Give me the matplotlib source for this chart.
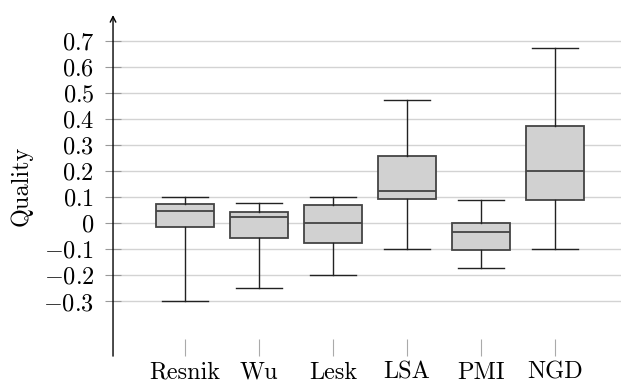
import matplotlib
matplotlib.use("Agg")
import matplotlib.pyplot as plt

categories = ["Resnik", "Wu", "Lesk", "LSA", "PMI", "NGD"]
whisker_low = [-0.30, -0.25, -0.20, -0.10, -0.17, -0.10]
q1 = [-0.015, -0.057, -0.075, 0.095, -0.104, 0.090]
median = [0.046, 0.025, 0.000, 0.124, -0.035, 0.200]
q3 = [0.074, 0.045, 0.070, 0.260, 0.002, 0.372]
whisker_high = [0.100, 0.079, 0.100, 0.472, 0.090, 0.672]
yticks = [-0.3, -0.2, -0.1, 0.0, 0.1, 0.2, 0.3, 0.4, 0.5, 0.6, 0.7]
ytick_labels = ["$-0.3$", "$-0.2$", "$-0.1$", "$0$", "$0.1$", "$0.2$", "$0.3$",
                "$0.4$", "$0.5$", "$0.6$", "$0.7$"]

plt.rcParams["mathtext.fontset"] = "cm"
plt.rcParams["font.family"] = ["cmr10", "DejaVu Serif"]

fig = plt.figure(figsize=(6.21, 3.85), dpi=100)
ax = fig.add_axes([0.182, 0.075, 0.818, 0.886])

stats = []
for i, c in enumerate(categories):
    stats.append(dict(label=c, whislo=whisker_low[i], q1=q1[i], med=median[i],
                      q3=q3[i], whishi=whisker_high[i], fliers=[]))
positions = list(range(1, len(categories) + 1))
ax.bxp(stats, positions=positions, widths=0.79, patch_artist=True, showfliers=False,
       boxprops=dict(facecolor="#d1d1d1", edgecolor="#444444", linewidth=1.3),
       medianprops=dict(color="#444444", linewidth=1.3),
       whiskerprops=dict(color="#222222", linewidth=1.0),
       capprops=dict(color="#222222", linewidth=1.0),
       capwidths=0.63, zorder=3)

ax.set_xlim(0.027, 6.89)
ax.set_ylim(-0.51, 0.80)
ax.set_yticks(yticks)
ax.set_yticklabels(ytick_labels, fontsize=17.5)
ax.set_xticks(positions)
ax.set_xticklabels(categories, fontsize=17.5)
ax.tick_params(axis="x", direction="in", length=12, color="#aaaaaa", pad=4)
ax.tick_params(axis="y", direction="inout", length=11, color="#999999", pad=8)
ax.yaxis.grid(True, color="#d3d3d3", linewidth=1.0, zorder=0)
ax.set_axisbelow(True)
for s in ["top", "right", "bottom", "left"]:
    ax.spines[s].set_visible(False)
ax.annotate("", xy=(0, 1.0), xytext=(0, 0), xycoords="axes fraction",
            arrowprops=dict(arrowstyle="->", color="black", lw=1.0,
                            shrinkA=0, shrinkB=0))
ax.set_ylabel("Quality", fontsize=17.5, labelpad=8)

fig.savefig("out.png", dpi=100)
